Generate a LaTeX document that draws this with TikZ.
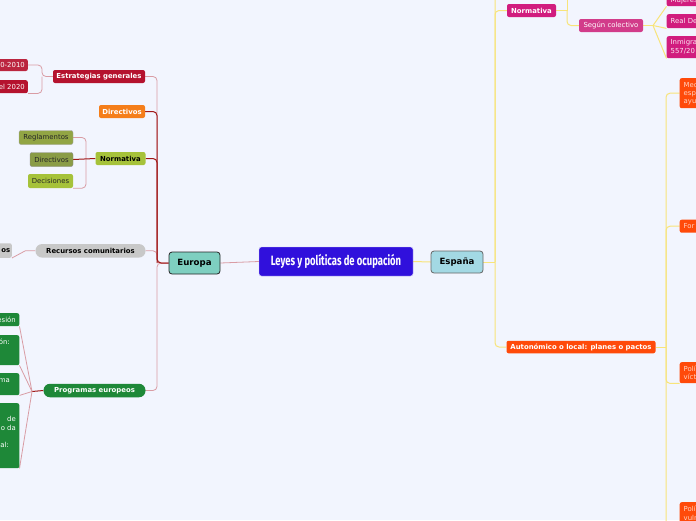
\documentclass[tikz,border=0pt]{standalone}
\usepackage{fontspec}
\setmainfont{DejaVu Sans}
\newfontfamily\titlefont[FakeStretch=0.7]{Fira Sans}
\definecolor{bg}{HTML}{F2F5FE}
\definecolor{titlefill}{HTML}{3010DC}
\definecolor{europafill}{HTML}{7ECFC0}
\definecolor{espanafill}{HTML}{A3D9E4}
\definecolor{crim}{HTML}{B5122E}
\definecolor{orng}{HTML}{F57E1A}
\definecolor{olive}{HTML}{A6C23A}
\definecolor{olive2}{HTML}{92A544}
\definecolor{olive3}{HTML}{8A9C46}
\definecolor{grayf}{HTML}{C8C8C8}
\definecolor{grn}{HTML}{1E8838}
\definecolor{mag}{HTML}{D11C7E}
\definecolor{segf}{HTML}{D23C8A}
\definecolor{ored}{HTML}{FF4A0A}
\definecolor{linkpink}{HTML}{D99CA4}
\definecolor{linkdark}{HTML}{A01818}
\definecolor{linkyel}{HTML}{F8E47A}
\pgfdeclarelayer{bgfill}
\pgfdeclarelayer{links}
\pgfsetlayers{bgfill,links,main}
\tikzset{
  lbl/.style={font=\fontsize{6.9}{8}\selectfont\bfseries, text=white, rounded corners=2pt, inner sep=0pt},
  reg/.style={font=\fontsize{6.9}{8.6}\selectfont, text=white, rounded corners=2pt, inner sep=0pt},
  boxonly/.style={rounded corners=2pt, inner sep=0pt, minimum width=40pt},
  txt/.style={font=\fontsize{6.9}{8.6}\selectfont, inner sep=0pt},
  pinkc/.style={draw=linkpink, line width=0.8pt},
  darkc/.style={draw=linkdark, line width=1pt},
  yel/.style={draw=linkyel, line width=1pt},
}
\begin{document}
\begin{tikzpicture}[x=1pt,y=-1pt]
\useasboundingbox (0,0) rectangle (696,520);
\begin{pgfonlayer}{bgfill}
\fill[bg] (0,0) rectangle (696,520);
\end{pgfonlayer}
\clip (0,0) rectangle (696,520);

% ---------- main nodes
\node[fill=titlefill, draw=white!75!titlefill, rounded corners=2.5pt, minimum width=154pt, minimum height=29pt, inner sep=0pt, text=white, font=\titlefont\fontsize{13.5}{15}\selectfont\bfseries] (title) at (336,261.5) {Leyes y políticas de ocupación};
\node[fill=europafill, draw=black!85, line width=0.8pt, rounded corners=3pt, minimum width=51pt, minimum height=22pt, inner sep=0pt, font=\fontsize{8.6}{10}\selectfont\bfseries] (europa) at (194.5,263) {Europa};
\node[fill=espanafill, draw=black!60, line width=0.8pt, rounded corners=3pt, minimum width=52pt, minimum height=22pt, inner sep=0pt, font=\fontsize{8.6}{10}\selectfont\bfseries] (espana) at (457,262) {España};

% ---------- Europa children
\node[lbl, fill=crim, minimum width=92pt, minimum height=13pt] (estr) at (99,76.5) {Estrategias generales};
\node[lbl, fill=orng, minimum width=46pt, minimum height=13pt] (dir) at (122,111.5) {Directivos};
\node[lbl, fill=olive, text=black, minimum width=50pt, minimum height=13pt] (normE) at (120.5,158.5) {Normativa};
\node[lbl, fill=grayf, text=black, rounded corners=6.5pt, minimum width=110pt, minimum height=13.5pt] (rec) at (90.5,250.8) {Recursos comunitarios};
\node[lbl, fill=grn, rounded corners=6.5pt, minimum width=102pt, minimum height=13.5pt] (prog) at (94.5,390.5) {Programas europeos};

% Estrategias children
\node[reg, fill=crim!92!white, anchor=east, minimum width=50pt, minimum height=12pt, text width=44pt, align=right] (s1) at (28,65) {0-2010};
\node[reg, fill=crim, anchor=east, minimum width=50pt, minimum height=13pt, text width=44pt, align=right] (s2) at (28,86.7) {el 2020};

% Normativa (Europa) children
\node[reg, fill=olive2, draw=black!35, text=black!85, minimum width=54pt, minimum height=14pt] (regl) at (46,137.5) {Reglamentos};
\node[reg, fill=olive3, draw=black!45, text=black!85, minimum width=43pt, minimum height=14pt] (dir2) at (51.5,159.5) {Directivos};
\node[reg, fill=olive, text=black!85, minimum width=45pt, minimum height=14pt] (deci) at (50.5,181) {Decisiones};

% Recursos child
\node[lbl, fill=grayf, text=black, anchor=east, minimum width=40pt, minimum height=14.5pt, text width=37pt, align=right] (os) at (12,250.5) {os};

% Programas children
\node[boxonly, fill=grn, anchor=north east, minimum height=13pt] (g1) at (19.5,313) {};
\node[boxonly, fill=grn, anchor=north east, minimum height=30pt] (g2) at (19.5,335) {};
\node[boxonly, fill=grn, anchor=north east, minimum height=22pt] (g3) at (19.5,373) {};
\node[boxonly, fill=grn, anchor=north east, minimum height=65pt] (g4) at (19.5,403) {};
\node[txt, text=white, anchor=east] (tg1) at (16,320) {esión};
\node[txt, text=white, anchor=east] (tg2) at (10,342) {ón:};
\node[txt, text=white, anchor=east] (tg3) at (10,380.5) {ma};
\node[txt, text=white, anchor=east] (tg4a) at (16,419) {de};
\node[txt, text=white, anchor=east] (tg4b) at (16,427.5) {o da};
\node[txt, text=white, anchor=east] (tg4c) at (9,444.5) {al:};

% ---------- España children
\node[lbl, fill=mag, minimum width=49pt, minimum height=13pt] (normR) at (531.5,10.5) {Normativa};
\node[reg, fill=segf, minimum width=64pt, minimum height=13pt] (seg) at (611,25.5) {Según colectivo};
\node[lbl, fill=ored, minimum width=149pt, minimum height=12.5pt] (auto) at (581,347) {Autonómico o local: planes o pactos};

\node[boxonly, fill=mag, anchor=north west, minimum height=14pt] (muj) at (666.5,-8) {};
\node[boxonly, fill=mag, anchor=north west, minimum height=14pt] (real) at (666.5,14) {};
\node[boxonly, fill=mag, anchor=north west, minimum height=22pt] (inm) at (666.5,36) {};
\node[txt, text=white!90!mag, anchor=west] (tmuj) at (670.5,0.5) {Mujeres};
\node[txt, text=white!90!mag, anchor=west] (treal) at (670.5,21) {Real De};
\node[txt, text=white!90!mag, anchor=west] (tinm1) at (670.5,43) {Inmigra};
\node[txt, text=white!90!mag, anchor=west] (tinm2) at (670.5,51.5) {557/20};

\node[boxonly, fill=ored, anchor=north west, minimum height=30pt] (med) at (679.5,78) {};
\node[boxonly, fill=ored, anchor=north west, minimum height=13pt] (for) at (679.5,219.5) {};
\node[boxonly, fill=ored, anchor=north west, minimum height=21pt] (pol1) at (679.5,362) {};
\node[boxonly, fill=ored, anchor=north west, minimum height=30pt] (pol2) at (679.5,502) {};
\node[txt, text=white!75!ored, anchor=west] (tmed1) at (683.5,85) {Med};
\node[txt, text=white!75!ored, anchor=west] (tmed2) at (683.5,94) {esp};
\node[txt, text=white!75!ored, anchor=west] (tmed3) at (683.5,102.5) {ayu};
\node[txt, text=white!75!ored, anchor=west] (tfor) at (683.5,226) {For};
\node[txt, text=white!75!ored, anchor=west] (tpol1a) at (683.5,368.5) {Polí};
\node[txt, text=white!75!ored, anchor=west] (tpol1b) at (683.5,377) {vícti};
\node[txt, text=white!75!ored, anchor=west] (tpol2a) at (683.5,509) {Polí};
\node[txt, text=white!75!ored, anchor=west] (tpol2b) at (683.5,517.5) {vuln};

% ---------- junction coordinates
\coordinate (ej) at (157,263);
\coordinate (stj) at (42,76.5);
\coordinate (nj) at (86,159.5);
\coordinate (pj) at (32,391.5);
\coordinate (sj) at (495,262);
\coordinate (top) at (495,-10);
\coordinate (nrj) at (567,10.5);
\coordinate (nrtop) at (567,-10);
\coordinate (sgj) at (653,25.5);
\coordinate (aj) at (666,347);
\coordinate (abot) at (666,530);

% ---------- connectors
\begin{pgfonlayer}{links}
\draw[pinkc] (title.west) -- (europa.east);
\draw[yel] (title.east) -- (espana.west);

\draw[pinkc, rounded corners=4pt] (europa.west) -- (ej) -- (ej |- estr.east) -- (estr.east);
\draw[pinkc, rounded corners=4pt] (europa.west) -- (ej) -- (ej |- rec.east) -- (rec.east);
\draw[pinkc, rounded corners=4pt] (europa.west) -- (ej) -- (ej |- prog.east) -- (prog.east);
\draw[darkc, rounded corners=4pt] (europa.west) -- (ej) -- (ej |- dir.east) -- (dir.east);
\draw[darkc, rounded corners=4pt] (ej) -- (ej |- normE.east) -- (normE.east);

\draw[pinkc, rounded corners=4pt] (estr.west) -- (stj) -- (stj |- s1.east) -- (s1.east);
\draw[pinkc, rounded corners=4pt] (stj) -- (stj |- s2.south east) -- (s2.south east);

\draw[pinkc, rounded corners=4pt] (nj) -- (nj |- regl.east) -- (regl.east);
\draw[pinkc, rounded corners=4pt] (nj) -- (nj |- deci.south east) -- (deci.south east);
\draw[darkc] (normE.west) -- (dir2.east);

\draw[pinkc] (rec.west) -- ++(-10,0) -- (os.south east);

\draw[darkc] (prog.west) -- (pj);
\draw[pinkc] (pj) -- (g1.south east);
\draw[pinkc] (pj) -- (g2.south east);
\draw[pinkc] (pj) -- (g3.south east);
\draw[pinkc] (pj) -- (g4.south east);

\draw[yel] (espana.east) -- (sj);
\draw[yel, rounded corners=4pt] (top) -- (top |- auto.west) -- (auto.west);
\draw[yel, rounded corners=4pt] (sj) -- (sj |- normR.west) -- (normR.west);

\draw[yel] (normR.east) -- (nrj) -- (nrtop);
\draw[yel, rounded corners=4pt] (nrj) -- (nrj |- seg.west) -- (seg.west);

\draw[yel] (seg.east) -- (sgj);
\draw[yel] (sgj) -- (muj.south west);
\draw[yel] (sgj) -- (real.south west);
\draw[yel] (sgj) -- (inm.south west);

\draw[yel] (auto.east) -- (aj);
\draw[yel, rounded corners=4pt] (med.west) -- (aj |- med.west) -- (abot);
\draw[yel, rounded corners=4pt] (aj) -- (aj |- for.west) -- (for.west);
\draw[yel, rounded corners=4pt] (aj) -- (aj |- pol1.south west) -- (pol1.south west);
\end{pgfonlayer}
\end{tikzpicture}
\end{document}
